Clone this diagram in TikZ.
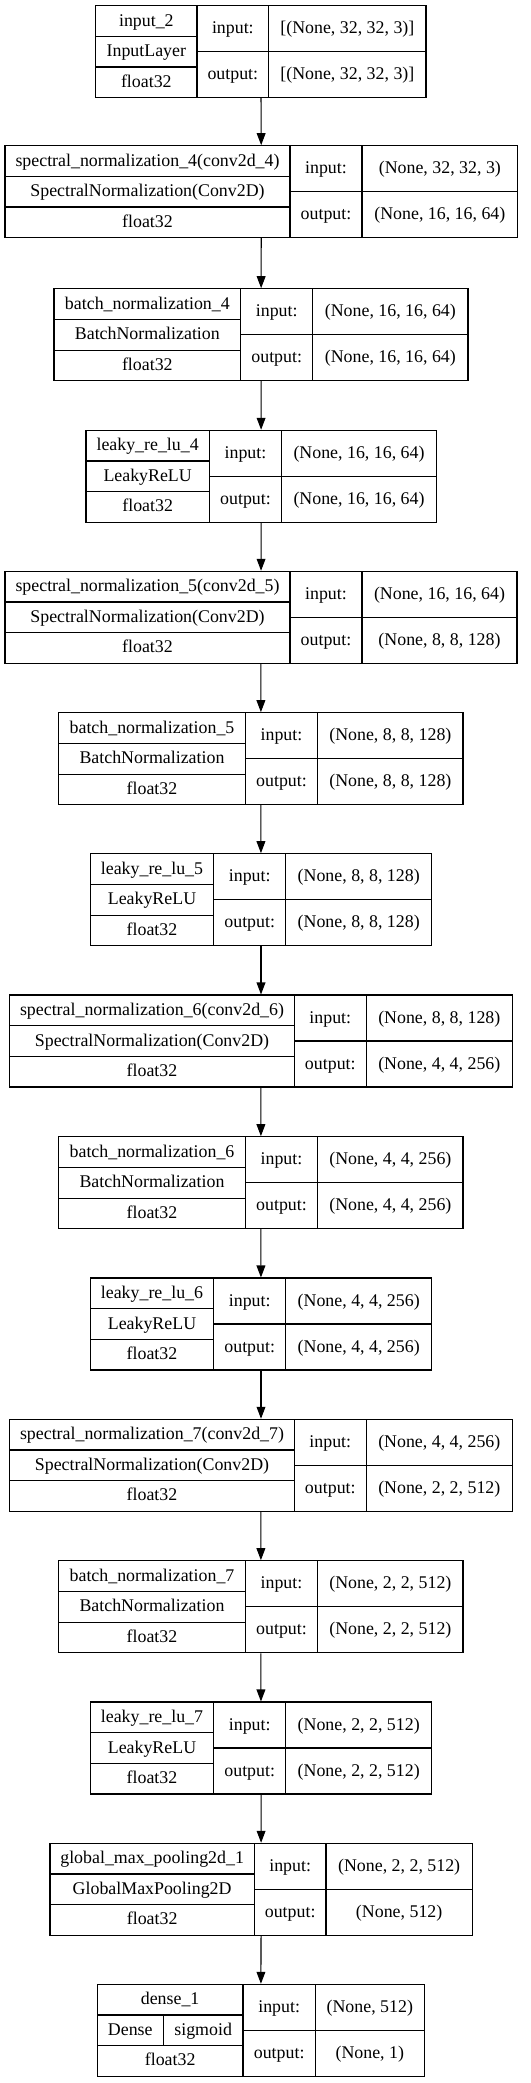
\documentclass[tikz,border=0pt]{standalone}
\usepackage{fontspec}
\setmainfont{Liberation Serif}
\usetikzlibrary{arrows.meta,fit}
\tikzset{
  frame/.style={draw=black, line width=0.8pt, inner sep=0pt},
  cell/.style={draw=black, line width=0.8pt},
  lbl/.style={inner sep=0pt, font=\fontsize{13.4}{16}\selectfont, text height=0.95em, text depth=0.2em},
  arr/.style={draw=black, line width=0.8pt, -{Triangle[length=9pt,width=6.6pt]}},
}
% frame of one layer: name, top, left, right, divider 1, divider 2
\newcommand\layframe[6]{%
  \gdef\cT{#2}\gdef\cL{#3}\gdef\cR{#4}\gdef\cA{#5}\gdef\cB{#6}%
  \node[frame, fit={(#3,#2) (#4,{#2+92})}] (#1) {};
  \draw[cell] (#5,#2) -- (#5,{#2+92}) (#6,#2) -- (#6,{#2+92})
    (#3,{#2+92/3}) -- (#5,{#2+92/3}) (#3,{#2+184/3}) -- (#5,{#2+184/3})
    (#5,{#2+46}) -- (#4,{#2+46});
}
% texts of one layer: name, title, class, input, output
\newcommand\laytext[5]{%
  \node[lbl] (#1-t) at ({(\cL+\cA)/2},{\cT+46/3}) {#2};
  \node[lbl] (#1-c) at ({(\cL+\cA)/2},{\cT+46}) {#3};
  \node[lbl] (#1-d) at ({(\cL+\cA)/2},{\cT+92*5/6}) {float32};
  \node[lbl] (#1-il) at ({(\cA+\cB)/2},{\cT+23}) {input:};
  \node[lbl] (#1-iv) at ({(\cB+\cR)/2},{\cT+23}) {#4};
  \node[lbl] (#1-ol) at ({(\cA+\cB)/2},{\cT+69}) {output:};
  \node[lbl] (#1-ov) at ({(\cB+\cR)/2},{\cT+69}) {#5};
}
\begin{document}
\begin{tikzpicture}[x=0.75pt, y=-0.75pt]
\useasboundingbox (0,0) rectangle (531,2083);

\layframe{b1}{5.7}{95.7}{426}{197}{268.7}
\laytext{b1}{input\_2}{InputLayer}{[(None, 32, 32, 3)]}{[(None, 32, 32, 3)]}

\layframe{b2}{145.7}{5}{517.7}{290}{362}
\laytext{b2}{spectral\_normalization\_4(conv2d\_4)}{SpectralNormalization(Conv2D)}{(None, 32, 32, 3)}{(None, 16, 16, 64)}

\layframe{b3}{288.7}{54}{468}{240.7}{312.7}
\laytext{b3}{batch\_normalization\_4}{BatchNormalization}{(None, 16, 16, 64)}{(None, 16, 16, 64)}

\layframe{b4}{430.3}{86}{436.3}{209.3}{281.7}
\laytext{b4}{leaky\_re\_lu\_4}{LeakyReLU}{(None, 16, 16, 64)}{(None, 16, 16, 64)}

\layframe{b5}{571.3}{5}{517}{290}{362}
\laytext{b5}{spectral\_normalization\_5(conv2d\_5)}{SpectralNormalization(Conv2D)}{(None, 16, 16, 64)}{(None, 8, 8, 128)}

\layframe{b6}{712.7}{58.7}{463}{245.3}{317.7}
\laytext{b6}{batch\_normalization\_5}{BatchNormalization}{(None, 8, 8, 128)}{(None, 8, 8, 128)}

\layframe{b7}{853.7}{90.3}{431.7}{213.7}{285.7}
\laytext{b7}{leaky\_re\_lu\_5}{LeakyReLU}{(None, 8, 8, 128)}{(None, 8, 8, 128)}

\layframe{b8}{995}{9.7}{512.3}{294.3}{366.3}
\laytext{b8}{spectral\_normalization\_6(conv2d\_6)}{SpectralNormalization(Conv2D)}{(None, 8, 8, 128)}{(None, 4, 4, 256)}

\layframe{b9}{1136.7}{58.7}{463}{245.3}{317.7}
\laytext{b9}{batch\_normalization\_6}{BatchNormalization}{(None, 4, 4, 256)}{(None, 4, 4, 256)}

\layframe{b10}{1278}{90.3}{431.7}{213.7}{285.7}
\laytext{b10}{leaky\_re\_lu\_6}{LeakyReLU}{(None, 4, 4, 256)}{(None, 4, 4, 256)}

\layframe{b11}{1419.3}{9.7}{512.3}{294.3}{366.3}
\laytext{b11}{spectral\_normalization\_7(conv2d\_7)}{SpectralNormalization(Conv2D)}{(None, 4, 4, 256)}{(None, 2, 2, 512)}

\layframe{b12}{1560.7}{58.7}{463}{245.3}{317.7}
\laytext{b12}{batch\_normalization\_7}{BatchNormalization}{(None, 2, 2, 512)}{(None, 2, 2, 512)}

\layframe{b13}{1702}{90.3}{431.7}{213.7}{285.7}
\laytext{b13}{leaky\_re\_lu\_7}{LeakyReLU}{(None, 2, 2, 512)}{(None, 2, 2, 512)}

\layframe{b14}{1843.3}{50}{472.3}{254.3}{326}
\laytext{b14}{global\_max\_pooling2d\_1}{GlobalMaxPooling2D}{(None, 2, 2, 512)}{(None, 512)}

\layframe{b15}{1984.3}{97.3}{424.3}{243}{315.3}
\laytext{b15}{dense\_1}{}{(None, 512)}{(None, 1)}
\draw[cell] (163.3,{1984.3+92/3}) -- (163.3,{1984.3+184/3});
\node[lbl] (b15-c1) at ({(97.3+163.3)/2},{1984.3+46}) {Dense};
\node[lbl] (b15-c2) at ({(163.3+243)/2},{1984.3+46}) {sigmoid};

\foreach \i [evaluate=\i as \j using int(\i+1)] in {1,...,14}
  \draw[arr] (b\i) -- (b\j);
\end{tikzpicture}
\end{document}
